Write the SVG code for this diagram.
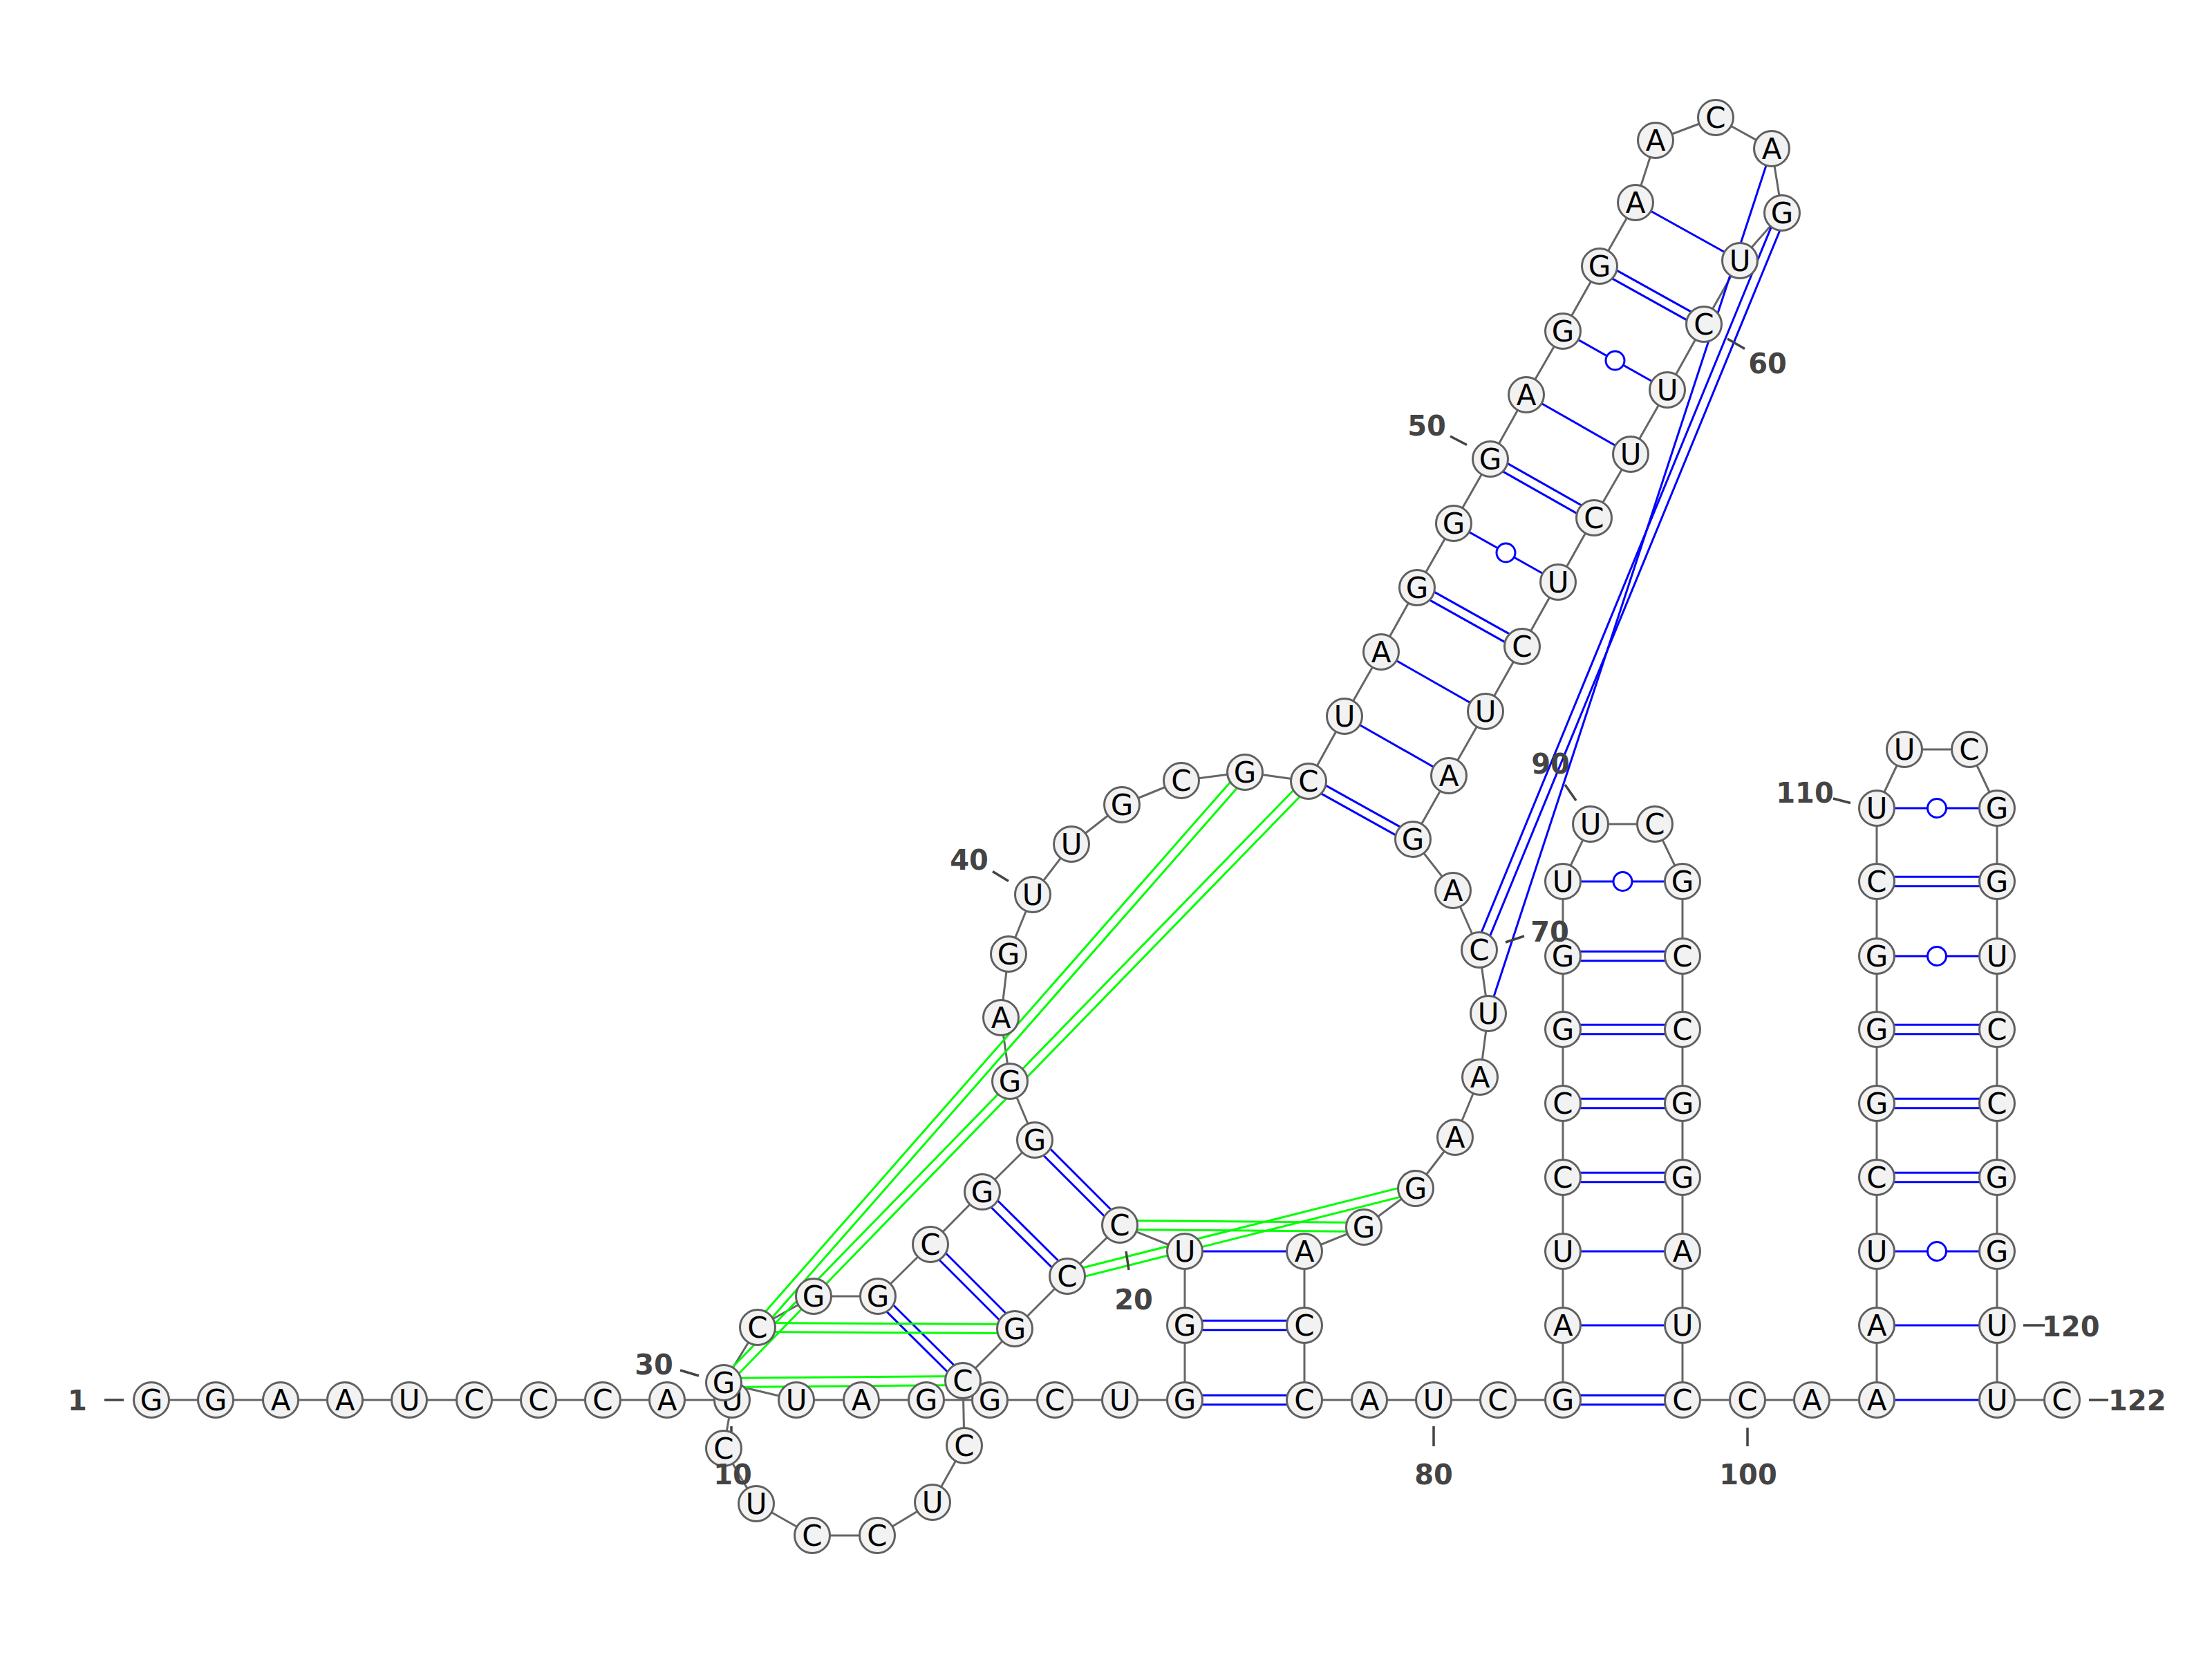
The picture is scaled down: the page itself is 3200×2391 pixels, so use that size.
<svg xmlns="http://www.w3.org/2000/svg" width="3200" height="2391" viewBox="0 0 3200 2391">
<style>
.bb{fill:none;stroke:#666;stroke-width:3;stroke-linejoin:round}
.bp{stroke:#0000ff;stroke-width:3;fill:none}
.pk{stroke:#00ff00;stroke-width:3;fill:none}
.gu{fill:#fff;stroke:#0000ff;stroke-width:3}
.tk{stroke:#444;stroke-width:3.5}
.nt circle{fill:#f2f2f2;stroke:#606060;stroke-width:3}
.nt text{font-family:"DejaVu Sans","Liberation Sans",sans-serif;font-size:42px;fill:#000;text-anchor:middle}
.lb{font-family:"DejaVu Sans","Liberation Sans",sans-serif;font-size:40px;font-weight:bold;fill:#444;text-anchor:middle}
</style>
<rect width="3200" height="2391" fill="#fff"/>
<g id="connectors">
<polyline class="bb" points="219,2025 312,2025 406,2025 499,2025 592,2025 686,2025 779,2025 872,2025 965,2025 1059,2025 1047,2095 1094,2175 1175,2221 1269,2221 1349,2173 1395,2091 1393,1997 1468,1922 1544,1846 1620,1772 1714,1810 1714,1917 1714,2025 1620,2025 1526,2025 1432,2025 1340,2025 1246,2025 1152,2025 1047,2000 1096,1920 1177,1875 1270,1875 1346,1800 1421,1724 1497,1649 1461,1564 1448,1472 1459,1380 1494,1294 1550,1221 1623,1164 1709,1129 1801,1117 1893,1130 1945,1036 1998,943 2050,850 2103,757 2156,664 2208,571 2261,479 2314,385 2366,293 2395,203 2482,170 2563,215 2578,308 2517,377 2465,469 2412,564 2359,657 2306,749 2254,842 2202,935 2149,1029 2096,1122 2044,1214 2102,1288 2140,1374 2153,1466 2141,1558 2105,1645 2048,1719 1973,1775 1887,1810 1887,1917 1887,2025 1981,2025 2074,2025 2167,2025 2261,2025 2261,1917 2261,1810 2261,1703 2261,1596 2261,1489 2261,1383 2261,1275 2301,1192 2394,1192 2434,1275 2434,1383 2434,1489 2434,1596 2434,1703 2434,1810 2434,1917 2434,2025 2528,2025 2621,2025 2715,2025 2715,1917 2715,1810 2715,1703 2715,1596 2715,1489 2715,1383 2715,1275 2715,1169 2755,1084 2849,1084 2889,1169 2889,1275 2889,1383 2889,1489 2889,1596 2889,1703 2889,1810 2889,1917 2889,2025 2983,2025"/>
<g id="pairs">
<path class="bp" d="M1397.8,1992.2L1274.8,1870.2M1388.2,2001.8L1265.2,1879.8"/>
<path class="bp" d="M1472.8,1917.2L1350.8,1795.2M1463.2,1926.8L1341.2,1804.8"/>
<path class="bp" d="M1548.8,1841.2L1425.8,1719.2M1539.2,1850.8L1416.2,1728.8"/>
<path class="bp" d="M1624.8,1767.2L1501.8,1644.2M1615.2,1776.8L1492.2,1653.8"/>
<path class="bp" d="M1714,1810L1887,1810"/>
<path class="bp" d="M1714,1910.25L1887,1910.25M1714,1923.75L1887,1923.75"/>
<path class="bp" d="M1714,2018.25L1887,2018.25M1714,2031.75L1887,2031.75"/>
<path class="bp" d="M1889.7,1135.9L2040.7,1219.9M1896.3,1124.1L2047.3,1208.1"/>
<path class="bp" d="M1945,1036L2096,1122"/>
<path class="bp" d="M1998,943L2149,1029"/>
<path class="bp" d="M2046.7,855.9L2198.7,940.9M2053.3,844.1L2205.3,929.1"/>
<path class="bp" d="M2103,757L2254,842"/>
<path class="bp" d="M2152.7,669.9L2302.7,754.9M2159.3,658.1L2309.3,743.1"/>
<path class="bp" d="M2208,571L2359,657"/>
<path class="bp" d="M2261,479L2412,564"/>
<path class="bp" d="M2310.7,390.9L2461.7,474.9M2317.3,379.1L2468.3,463.1"/>
<path class="bp" d="M2366,293L2517,377"/>
<path class="bp" d="M2563,215L2153,1466"/>
<path class="bp" d="M2571.8,305.4L2133.8,1371.4M2584.2,310.6L2146.2,1376.6"/>
<path class="bp" d="M2261,2018.25L2434,2018.25M2261,2031.75L2434,2031.75"/>
<path class="bp" d="M2261,1917L2434,1917"/>
<path class="bp" d="M2261,1810L2434,1810"/>
<path class="bp" d="M2261,1696.25L2434,1696.25M2261,1709.75L2434,1709.75"/>
<path class="bp" d="M2261,1589.25L2434,1589.25M2261,1602.75L2434,1602.75"/>
<path class="bp" d="M2261,1482.25L2434,1482.25M2261,1495.75L2434,1495.75"/>
<path class="bp" d="M2261,1376.25L2434,1376.25M2261,1389.75L2434,1389.75"/>
<path class="bp" d="M2261,1275L2434,1275"/>
<path class="bp" d="M2715,2025L2889,2025"/>
<path class="bp" d="M2715,1917L2889,1917"/>
<path class="bp" d="M2715,1810L2889,1810"/>
<path class="bp" d="M2715,1696.25L2889,1696.25M2715,1709.75L2889,1709.75"/>
<path class="bp" d="M2715,1589.25L2889,1589.25M2715,1602.75L2889,1602.75"/>
<path class="bp" d="M2715,1482.25L2889,1482.25M2715,1495.75L2889,1495.75"/>
<path class="bp" d="M2715,1383L2889,1383"/>
<path class="bp" d="M2715,1268.25L2889,1268.25M2715,1281.75L2889,1281.75"/>
<path class="bp" d="M2715,1169L2889,1169"/>
<path class="pk" d="M1047,1993.5L1393,1990.5M1047,2006.5L1393,2003.5"/>
<path class="pk" d="M1096,1913.5L1468,1915.5M1096,1926.5L1468,1928.5"/>
<path class="pk" d="M1100.9,1924.3L1805.9,1121.3M1091.1,1915.7L1796.1,1112.7"/>
<path class="pk" d="M1051.7,2004.5L1897.7,1134.5M1042.3,1995.5L1888.3,1125.5"/>
<path class="pk" d="M1545.6,1852.3L2049.6,1725.3M1542.4,1839.7L2046.4,1712.7"/>
<path class="pk" d="M1620,1765.5L1973,1768.5M1620,1778.5L1973,1781.5"/>
<circle class="gu" cx="2178.5" cy="799.5" r="13.5"/>
<circle class="gu" cx="2336.5" cy="521.5" r="13.5"/>
<circle class="gu" cx="2347.5" cy="1275" r="13.5"/>
<circle class="gu" cx="2802" cy="1810" r="13.5"/>
<circle class="gu" cx="2802" cy="1383" r="13.5"/>
<circle class="gu" cx="2802" cy="1169" r="13.5"/>
</g>
<g id="ticks">
<path class="tk" d="M151,2025H179M1058,2063V2092M1629,1810L1633,1837M984,1982L1011,1990M1436,1260.5L1459,1274.5M2098,631L2122,643.5M2499,490L2524,504.5M2178,1363L2205,1354M2074,2063V2092M2264,1135L2280,1158M2528,2065V2092M2652,1155L2677,1161.5M2927,1917H2958M3022,2025H3050"/>
</g>
</g>
<g id="nodes">
<g id="n1" class="nt"><circle cx="219" cy="2025" r="25.5"/><text x="219" y="2040">G</text></g>
<g id="n2" class="nt"><circle cx="312" cy="2025" r="25.5"/><text x="312" y="2040">G</text></g>
<g id="n3" class="nt"><circle cx="406" cy="2025" r="25.5"/><text x="406" y="2040">A</text></g>
<g id="n4" class="nt"><circle cx="499" cy="2025" r="25.5"/><text x="499" y="2040">A</text></g>
<g id="n5" class="nt"><circle cx="592" cy="2025" r="25.5"/><text x="592" y="2040">U</text></g>
<g id="n6" class="nt"><circle cx="686" cy="2025" r="25.5"/><text x="686" y="2040">C</text></g>
<g id="n7" class="nt"><circle cx="779" cy="2025" r="25.5"/><text x="779" y="2040">C</text></g>
<g id="n8" class="nt"><circle cx="872" cy="2025" r="25.5"/><text x="872" y="2040">C</text></g>
<g id="n9" class="nt"><circle cx="965" cy="2025" r="25.5"/><text x="965" y="2040">A</text></g>
<g id="n10" class="nt"><circle cx="1059" cy="2025" r="25.5"/><text x="1059" y="2040">U</text></g>
<g id="n11" class="nt"><circle cx="1047" cy="2095" r="25.5"/><text x="1047" y="2110">C</text></g>
<g id="n12" class="nt"><circle cx="1094" cy="2175" r="25.5"/><text x="1094" y="2190">U</text></g>
<g id="n13" class="nt"><circle cx="1175" cy="2221" r="25.5"/><text x="1175" y="2236">C</text></g>
<g id="n14" class="nt"><circle cx="1269" cy="2221" r="25.5"/><text x="1269" y="2236">C</text></g>
<g id="n15" class="nt"><circle cx="1349" cy="2173" r="25.5"/><text x="1349" y="2188">U</text></g>
<g id="n16" class="nt"><circle cx="1395" cy="2091" r="25.5"/><text x="1395" y="2106">C</text></g>
<g id="n18" class="nt"><circle cx="1468" cy="1922" r="25.5"/><text x="1468" y="1937">G</text></g>
<g id="n19" class="nt"><circle cx="1544" cy="1846" r="25.5"/><text x="1544" y="1861">C</text></g>
<g id="n20" class="nt"><circle cx="1620" cy="1772" r="25.5"/><text x="1620" y="1787">C</text></g>
<g id="n21" class="nt"><circle cx="1714" cy="1810" r="25.5"/><text x="1714" y="1825">U</text></g>
<g id="n22" class="nt"><circle cx="1714" cy="1917" r="25.5"/><text x="1714" y="1932">G</text></g>
<g id="n23" class="nt"><circle cx="1714" cy="2025" r="25.5"/><text x="1714" y="2040">G</text></g>
<g id="n24" class="nt"><circle cx="1620" cy="2025" r="25.5"/><text x="1620" y="2040">U</text></g>
<g id="n25" class="nt"><circle cx="1526" cy="2025" r="25.5"/><text x="1526" y="2040">C</text></g>
<g id="n26" class="nt"><circle cx="1432" cy="2025" r="25.5"/><text x="1432" y="2040">G</text></g>
<g id="n27" class="nt"><circle cx="1340" cy="2025" r="25.5"/><text x="1340" y="2040">G</text></g>
<g id="n28" class="nt"><circle cx="1246" cy="2025" r="25.5"/><text x="1246" y="2040">A</text></g>
<g id="n29" class="nt"><circle cx="1152" cy="2025" r="25.5"/><text x="1152" y="2040">U</text></g>
<g id="n17" class="nt"><circle cx="1393" cy="1997" r="25.5"/><text x="1393" y="2012">C</text></g>
<g id="n30" class="nt"><circle cx="1047" cy="2000" r="25.5"/><text x="1047" y="2015">G</text></g>
<g id="n31" class="nt"><circle cx="1096" cy="1920" r="25.5"/><text x="1096" y="1935">C</text></g>
<g id="n32" class="nt"><circle cx="1177" cy="1875" r="25.5"/><text x="1177" y="1890">G</text></g>
<g id="n33" class="nt"><circle cx="1270" cy="1875" r="25.5"/><text x="1270" y="1890">G</text></g>
<g id="n34" class="nt"><circle cx="1346" cy="1800" r="25.5"/><text x="1346" y="1815">C</text></g>
<g id="n35" class="nt"><circle cx="1421" cy="1724" r="25.5"/><text x="1421" y="1739">G</text></g>
<g id="n36" class="nt"><circle cx="1497" cy="1649" r="25.5"/><text x="1497" y="1664">G</text></g>
<g id="n37" class="nt"><circle cx="1461" cy="1564" r="25.5"/><text x="1461" y="1579">G</text></g>
<g id="n38" class="nt"><circle cx="1448" cy="1472" r="25.5"/><text x="1448" y="1487">A</text></g>
<g id="n39" class="nt"><circle cx="1459" cy="1380" r="25.5"/><text x="1459" y="1395">G</text></g>
<g id="n40" class="nt"><circle cx="1494" cy="1294" r="25.5"/><text x="1494" y="1309">U</text></g>
<g id="n41" class="nt"><circle cx="1550" cy="1221" r="25.5"/><text x="1550" y="1236">U</text></g>
<g id="n42" class="nt"><circle cx="1623" cy="1164" r="25.5"/><text x="1623" y="1179">G</text></g>
<g id="n43" class="nt"><circle cx="1709" cy="1129" r="25.5"/><text x="1709" y="1144">C</text></g>
<g id="n44" class="nt"><circle cx="1801" cy="1117" r="25.5"/><text x="1801" y="1132">G</text></g>
<g id="n45" class="nt"><circle cx="1893" cy="1130" r="25.5"/><text x="1893" y="1145">C</text></g>
<g id="n46" class="nt"><circle cx="1945" cy="1036" r="25.5"/><text x="1945" y="1051">U</text></g>
<g id="n47" class="nt"><circle cx="1998" cy="943" r="25.5"/><text x="1998" y="958">A</text></g>
<g id="n48" class="nt"><circle cx="2050" cy="850" r="25.5"/><text x="2050" y="865">G</text></g>
<g id="n49" class="nt"><circle cx="2103" cy="757" r="25.5"/><text x="2103" y="772">G</text></g>
<g id="n50" class="nt"><circle cx="2156" cy="664" r="25.5"/><text x="2156" y="679">G</text></g>
<g id="n51" class="nt"><circle cx="2208" cy="571" r="25.5"/><text x="2208" y="586">A</text></g>
<g id="n52" class="nt"><circle cx="2261" cy="479" r="25.5"/><text x="2261" y="494">G</text></g>
<g id="n53" class="nt"><circle cx="2314" cy="385" r="25.5"/><text x="2314" y="400">G</text></g>
<g id="n54" class="nt"><circle cx="2366" cy="293" r="25.5"/><text x="2366" y="308">A</text></g>
<g id="n55" class="nt"><circle cx="2395" cy="203" r="25.5"/><text x="2395" y="218">A</text></g>
<g id="n56" class="nt"><circle cx="2482" cy="170" r="25.5"/><text x="2482" y="185">C</text></g>
<g id="n57" class="nt"><circle cx="2563" cy="215" r="25.5"/><text x="2563" y="230">A</text></g>
<g id="n58" class="nt"><circle cx="2578" cy="308" r="25.5"/><text x="2578" y="323">G</text></g>
<g id="n59" class="nt"><circle cx="2517" cy="377" r="25.5"/><text x="2517" y="392">U</text></g>
<g id="n60" class="nt"><circle cx="2465" cy="469" r="25.5"/><text x="2465" y="484">C</text></g>
<g id="n61" class="nt"><circle cx="2412" cy="564" r="25.5"/><text x="2412" y="579">U</text></g>
<g id="n62" class="nt"><circle cx="2359" cy="657" r="25.5"/><text x="2359" y="672">U</text></g>
<g id="n63" class="nt"><circle cx="2306" cy="749" r="25.5"/><text x="2306" y="764">C</text></g>
<g id="n64" class="nt"><circle cx="2254" cy="842" r="25.5"/><text x="2254" y="857">U</text></g>
<g id="n65" class="nt"><circle cx="2202" cy="935" r="25.5"/><text x="2202" y="950">C</text></g>
<g id="n66" class="nt"><circle cx="2149" cy="1029" r="25.5"/><text x="2149" y="1044">U</text></g>
<g id="n67" class="nt"><circle cx="2096" cy="1122" r="25.5"/><text x="2096" y="1137">A</text></g>
<g id="n68" class="nt"><circle cx="2044" cy="1214" r="25.5"/><text x="2044" y="1229">G</text></g>
<g id="n69" class="nt"><circle cx="2102" cy="1288" r="25.5"/><text x="2102" y="1303">A</text></g>
<g id="n70" class="nt"><circle cx="2140" cy="1374" r="25.5"/><text x="2140" y="1389">C</text></g>
<g id="n71" class="nt"><circle cx="2153" cy="1466" r="25.5"/><text x="2153" y="1481">U</text></g>
<g id="n72" class="nt"><circle cx="2141" cy="1558" r="25.5"/><text x="2141" y="1573">A</text></g>
<g id="n73" class="nt"><circle cx="2105" cy="1645" r="25.5"/><text x="2105" y="1660">A</text></g>
<g id="n74" class="nt"><circle cx="2048" cy="1719" r="25.5"/><text x="2048" y="1734">G</text></g>
<g id="n75" class="nt"><circle cx="1973" cy="1775" r="25.5"/><text x="1973" y="1790">G</text></g>
<g id="n76" class="nt"><circle cx="1887" cy="1810" r="25.5"/><text x="1887" y="1825">A</text></g>
<g id="n77" class="nt"><circle cx="1887" cy="1917" r="25.5"/><text x="1887" y="1932">C</text></g>
<g id="n78" class="nt"><circle cx="1887" cy="2025" r="25.5"/><text x="1887" y="2040">C</text></g>
<g id="n79" class="nt"><circle cx="1981" cy="2025" r="25.5"/><text x="1981" y="2040">A</text></g>
<g id="n80" class="nt"><circle cx="2074" cy="2025" r="25.5"/><text x="2074" y="2040">U</text></g>
<g id="n81" class="nt"><circle cx="2167" cy="2025" r="25.5"/><text x="2167" y="2040">C</text></g>
<g id="n82" class="nt"><circle cx="2261" cy="2025" r="25.5"/><text x="2261" y="2040">G</text></g>
<g id="n83" class="nt"><circle cx="2261" cy="1917" r="25.5"/><text x="2261" y="1932">A</text></g>
<g id="n84" class="nt"><circle cx="2261" cy="1810" r="25.5"/><text x="2261" y="1825">U</text></g>
<g id="n85" class="nt"><circle cx="2261" cy="1703" r="25.5"/><text x="2261" y="1718">C</text></g>
<g id="n86" class="nt"><circle cx="2261" cy="1596" r="25.5"/><text x="2261" y="1611">C</text></g>
<g id="n87" class="nt"><circle cx="2261" cy="1489" r="25.5"/><text x="2261" y="1504">G</text></g>
<g id="n88" class="nt"><circle cx="2261" cy="1383" r="25.5"/><text x="2261" y="1398">G</text></g>
<g id="n89" class="nt"><circle cx="2261" cy="1275" r="25.5"/><text x="2261" y="1290">U</text></g>
<g id="n90" class="nt"><circle cx="2301" cy="1192" r="25.5"/><text x="2301" y="1207">U</text></g>
<g id="n91" class="nt"><circle cx="2394" cy="1192" r="25.5"/><text x="2394" y="1207">C</text></g>
<g id="n92" class="nt"><circle cx="2434" cy="1275" r="25.5"/><text x="2434" y="1290">G</text></g>
<g id="n93" class="nt"><circle cx="2434" cy="1383" r="25.5"/><text x="2434" y="1398">C</text></g>
<g id="n94" class="nt"><circle cx="2434" cy="1489" r="25.5"/><text x="2434" y="1504">C</text></g>
<g id="n95" class="nt"><circle cx="2434" cy="1596" r="25.5"/><text x="2434" y="1611">G</text></g>
<g id="n96" class="nt"><circle cx="2434" cy="1703" r="25.5"/><text x="2434" y="1718">G</text></g>
<g id="n97" class="nt"><circle cx="2434" cy="1810" r="25.5"/><text x="2434" y="1825">A</text></g>
<g id="n98" class="nt"><circle cx="2434" cy="1917" r="25.5"/><text x="2434" y="1932">U</text></g>
<g id="n99" class="nt"><circle cx="2434" cy="2025" r="25.5"/><text x="2434" y="2040">C</text></g>
<g id="n100" class="nt"><circle cx="2528" cy="2025" r="25.5"/><text x="2528" y="2040">C</text></g>
<g id="n101" class="nt"><circle cx="2621" cy="2025" r="25.5"/><text x="2621" y="2040">A</text></g>
<g id="n102" class="nt"><circle cx="2715" cy="2025" r="25.5"/><text x="2715" y="2040">A</text></g>
<g id="n103" class="nt"><circle cx="2715" cy="1917" r="25.5"/><text x="2715" y="1932">A</text></g>
<g id="n104" class="nt"><circle cx="2715" cy="1810" r="25.5"/><text x="2715" y="1825">U</text></g>
<g id="n105" class="nt"><circle cx="2715" cy="1703" r="25.5"/><text x="2715" y="1718">C</text></g>
<g id="n106" class="nt"><circle cx="2715" cy="1596" r="25.5"/><text x="2715" y="1611">G</text></g>
<g id="n107" class="nt"><circle cx="2715" cy="1489" r="25.5"/><text x="2715" y="1504">G</text></g>
<g id="n108" class="nt"><circle cx="2715" cy="1383" r="25.5"/><text x="2715" y="1398">G</text></g>
<g id="n109" class="nt"><circle cx="2715" cy="1275" r="25.5"/><text x="2715" y="1290">C</text></g>
<g id="n110" class="nt"><circle cx="2715" cy="1169" r="25.5"/><text x="2715" y="1184">U</text></g>
<g id="n111" class="nt"><circle cx="2755" cy="1084" r="25.5"/><text x="2755" y="1099">U</text></g>
<g id="n112" class="nt"><circle cx="2849" cy="1084" r="25.5"/><text x="2849" y="1099">C</text></g>
<g id="n113" class="nt"><circle cx="2889" cy="1169" r="25.5"/><text x="2889" y="1184">G</text></g>
<g id="n114" class="nt"><circle cx="2889" cy="1275" r="25.5"/><text x="2889" y="1290">G</text></g>
<g id="n115" class="nt"><circle cx="2889" cy="1383" r="25.5"/><text x="2889" y="1398">U</text></g>
<g id="n116" class="nt"><circle cx="2889" cy="1489" r="25.5"/><text x="2889" y="1504">C</text></g>
<g id="n117" class="nt"><circle cx="2889" cy="1596" r="25.5"/><text x="2889" y="1611">C</text></g>
<g id="n118" class="nt"><circle cx="2889" cy="1703" r="25.5"/><text x="2889" y="1718">G</text></g>
<g id="n119" class="nt"><circle cx="2889" cy="1810" r="25.5"/><text x="2889" y="1825">G</text></g>
<g id="n120" class="nt"><circle cx="2889" cy="1917" r="25.5"/><text x="2889" y="1932">U</text></g>
<g id="n121" class="nt"><circle cx="2889" cy="2025" r="25.5"/><text x="2889" y="2040">U</text></g>
<g id="n122" class="nt"><circle cx="2983" cy="2025" r="25.5"/><text x="2983" y="2040">C</text></g>
</g>
<g id="labels">
<text class="lb" x="112" y="2040">1</text>
<text class="lb" x="1060" y="2147">10</text>
<text class="lb" x="1640" y="1894">20</text>
<text class="lb" x="946" y="1988">30</text>
<text class="lb" x="1402" y="1258">40</text>
<text class="lb" x="2064" y="630">50</text>
<text class="lb" x="2557" y="540">60</text>
<text class="lb" x="2242" y="1362">70</text>
<text class="lb" x="2074" y="2147">80</text>
<text class="lb" x="2243" y="1119">90</text>
<text class="lb" x="2529" y="2147">100</text>
<text class="lb" x="2611" y="1161">110</text>
<text class="lb" x="2954" y="1933" text-anchor="start" style="text-anchor:start">120</text>
<text class="lb" x="3050" y="2040" style="text-anchor:start">122</text>
</g>
</svg>
